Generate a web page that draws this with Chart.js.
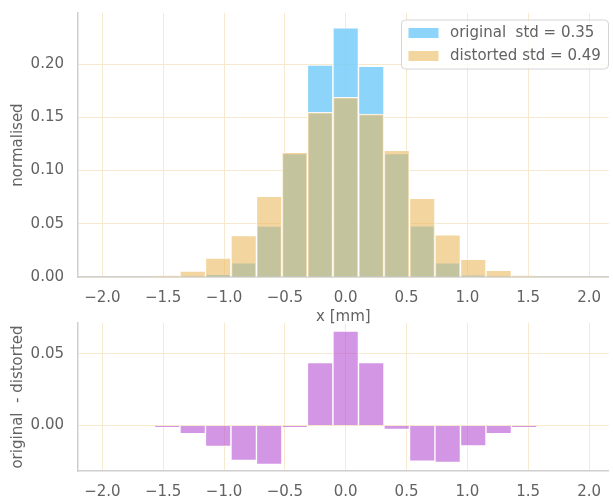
<!DOCTYPE html>
<html>
<head>
<meta charset="utf-8">
<script src="https://cdn.jsdelivr.net/npm/chart.js@4.4.0/dist/chart.umd.min.js"></script>
<style>
  html, body { margin: 0; padding: 0; background: #fff; overflow: hidden; }
  #wrap { position: relative; width: 613px; height: 501px; overflow: hidden; }
  #topBox { position: absolute; left: 0; top: -10px; width: 613px; height: 340px; }
  #diffBox { position: absolute; left: 0; top: 300px; width: 613px; height: 201px; }
</style>
</head>
<body>
<div id="wrap">
  <div id="topBox"><canvas id="histChart" width="613" height="340"></canvas></div>
  <div id="diffBox"><canvas id="diffChart" width="613" height="201"></canvas></div>
</div>
<script>
// 21 bins between -2.2 and 2.2
const binCenters = [-2.095, -1.886, -1.676, -1.467, -1.257, -1.048, -0.838, -0.629, -0.419, -0.210, 0.0,
                    0.210, 0.419, 0.629, 0.838, 1.048, 1.257, 1.467, 1.676, 1.886, 2.095];
const originalVals = [0, 0, 0, 0, 0, 0.0025, 0.0134, 0.0479, 0.116, 0.199, 0.234,
                      0.198, 0.116, 0.048, 0.0134, 0.0016, 0, 0, 0, 0, 0];
const distortedVals = [0, 0, 0, 0.0012, 0.0056, 0.0177, 0.0389, 0.0758, 0.117, 0.1547, 0.1687,
                       0.153, 0.119, 0.074, 0.0395, 0.0165, 0.0062, 0.0011, 0, 0, 0];
const diffVals = [0, 0, 0, -0.0014, -0.0058, -0.0147, -0.0244, -0.0272, -0.0012, 0.0438, 0.0659,
                  0.0438, -0.0028, -0.0249, -0.0258, -0.0143, -0.0058, -0.0012, 0, 0, 0];
const xTicks = [-2.0, -1.5, -1.0, -0.5, 0.0, 0.5, 1.0, 1.5, 2.0];
const histTicks = [0.0, 0.05, 0.10, 0.15, 0.20];
const diffTicks = [0.0, 0.05];
const seriesLabels = ['original  std = 0.35', 'distorted std = 0.49'];

const textColor = '#626262';
const gridColor = '#f6e9cf';
const spineColor = '#cfcfcf';
const fontFamily = '"DejaVu Sans", sans-serif';
const fontSize = 15;

function toPoints(vals) {
    return binCenters.map((x, i) => ({ x: x, y: vals[i] }));
}

function minusSign(v, digits) {
    return v.toFixed(digits).replace('-', '\u2212');
}

// x axis shared by both panels
function xScale(withTitle, tickPad) {
    return {
        type: 'linear',
        min: -2.2,
        max: 2.162,
        offset: false,
        afterBuildTicks: (scale) => { scale.ticks = xTicks.map(v => ({ value: v })); },
        afterFit: (scale) => { scale.height = withTitle ? 53 : 30; },
        ticks: {
            color: textColor,
            font: { family: fontFamily, size: fontSize },
            padding: tickPad,
            maxRotation: 0,
            callback: (v) => minusSign(v, 1)
        },
        grid: { color: gridColor, lineWidth: 1, drawTicks: false, offset: false },
        border: { color: spineColor, width: 1.5 },
        title: {
            display: withTitle,
            text: 'x [mm]',
            color: textColor,
            font: { family: fontFamily, size: fontSize },
            padding: { top: 0, bottom: 4 }
        }
    };
}

function yScale(min, max, ticks, title) {
    return {
        min: min,
        max: max,
        afterBuildTicks: (scale) => { scale.ticks = ticks.map(v => ({ value: v })); },
        afterFit: (scale) => { scale.width = 78; },
        ticks: {
            color: textColor,
            font: { family: fontFamily, size: fontSize },
            padding: 14,
            callback: (v) => minusSign(v, 2)
        },
        grid: { color: gridColor, lineWidth: 1, drawTicks: false },
        border: { color: spineColor, width: 1.5 },
        title: {
            display: true,
            text: title,
            color: textColor,
            font: { family: fontFamily, size: fontSize },
            padding: { top: 9, bottom: 0 }
        }
    };
}

// legend with a frame, drawn inside the plot area
const boxLegend = {
    id: 'boxLegend',
    afterDraw(chart) {
        const ctx = chart.ctx;
        const x = 401.5, y = 30, w = 207, h = 49;
        ctx.save();
        ctx.beginPath();
        ctx.roundRect(x, y, w, h, 4);
        ctx.fillStyle = 'rgba(255,255,255,0.8)';
        ctx.fill();
        ctx.strokeStyle = '#d4d4d4';
        ctx.lineWidth = 1;
        ctx.stroke();
        ctx.font = fontSize + 'px ' + fontFamily;
        ctx.textBaseline = 'middle';
        chart.data.datasets.forEach((ds, i) => {
            const rowY = y + 13 + i * 23;
            ctx.fillStyle = ds.legendColor;
            ctx.fillRect(x + 7, rowY - 5, 30, 10);
            ctx.fillStyle = textColor;
            ctx.fillText(ds.label, x + 48.5, rowY);
        });
        ctx.restore();
    }
};

function initializeCharts() {
    new Chart(document.getElementById('histChart'), {
        type: 'bar',
        data: {
            datasets: [{
                label: seriesLabels[0],
                data: toPoints(originalVals),
                backgroundColor: 'rgba(120, 205, 248, 0.85)',
                legendColor: 'rgba(120, 205, 248, 0.85)',
                borderColor: 'rgba(255,255,255,0.9)',
                borderWidth: 1,
                grouped: false,
                barPercentage: 1,
                categoryPercentage: 1,
                order: 2
            }, {
                label: seriesLabels[1],
                data: toPoints(distortedVals),
                backgroundColor: 'rgba(234, 183, 91, 0.58)',
                legendColor: 'rgba(234, 183, 91, 0.58)',
                borderColor: 'rgba(255,255,255,0.9)',
                borderWidth: 1,
                grouped: false,
                barPercentage: 1,
                categoryPercentage: 1,
                order: 1
            }]
        },
        options: {
            responsive: false,
            animation: false,
            layout: { padding: { top: 1, right: 0, bottom: 0, left: 0 } },
            plugins: { legend: { display: false }, tooltip: { enabled: false } },
            scales: {
                x: xScale(true, 12),
                y: yScale(0, 0.248, histTicks, 'normalised')
            }
        },
        plugins: [boxLegend]
    });

    new Chart(document.getElementById('diffChart'), {
        type: 'bar',
        data: {
            datasets: [{
                label: 'original - distorted',
                data: toPoints(diffVals),
                backgroundColor: 'rgba(180, 80, 210, 0.6)',
                borderColor: 'rgba(255,255,255,0.9)',
                borderWidth: 1,
                barPercentage: 1,
                categoryPercentage: 1
            }]
        },
        options: {
            responsive: false,
            animation: false,
            layout: { padding: { top: 1, right: 0, bottom: 0, left: 0 } },
            plugins: { legend: { display: false }, tooltip: { enabled: false } },
            scales: {
                x: xScale(false, 12),
                y: yScale(-0.0318, 0.0715, diffTicks, 'original  - distorted')
            }
        }
    });
}

document.addEventListener('DOMContentLoaded', () => {
    initializeCharts();
});
</script>
</body>
</html>
